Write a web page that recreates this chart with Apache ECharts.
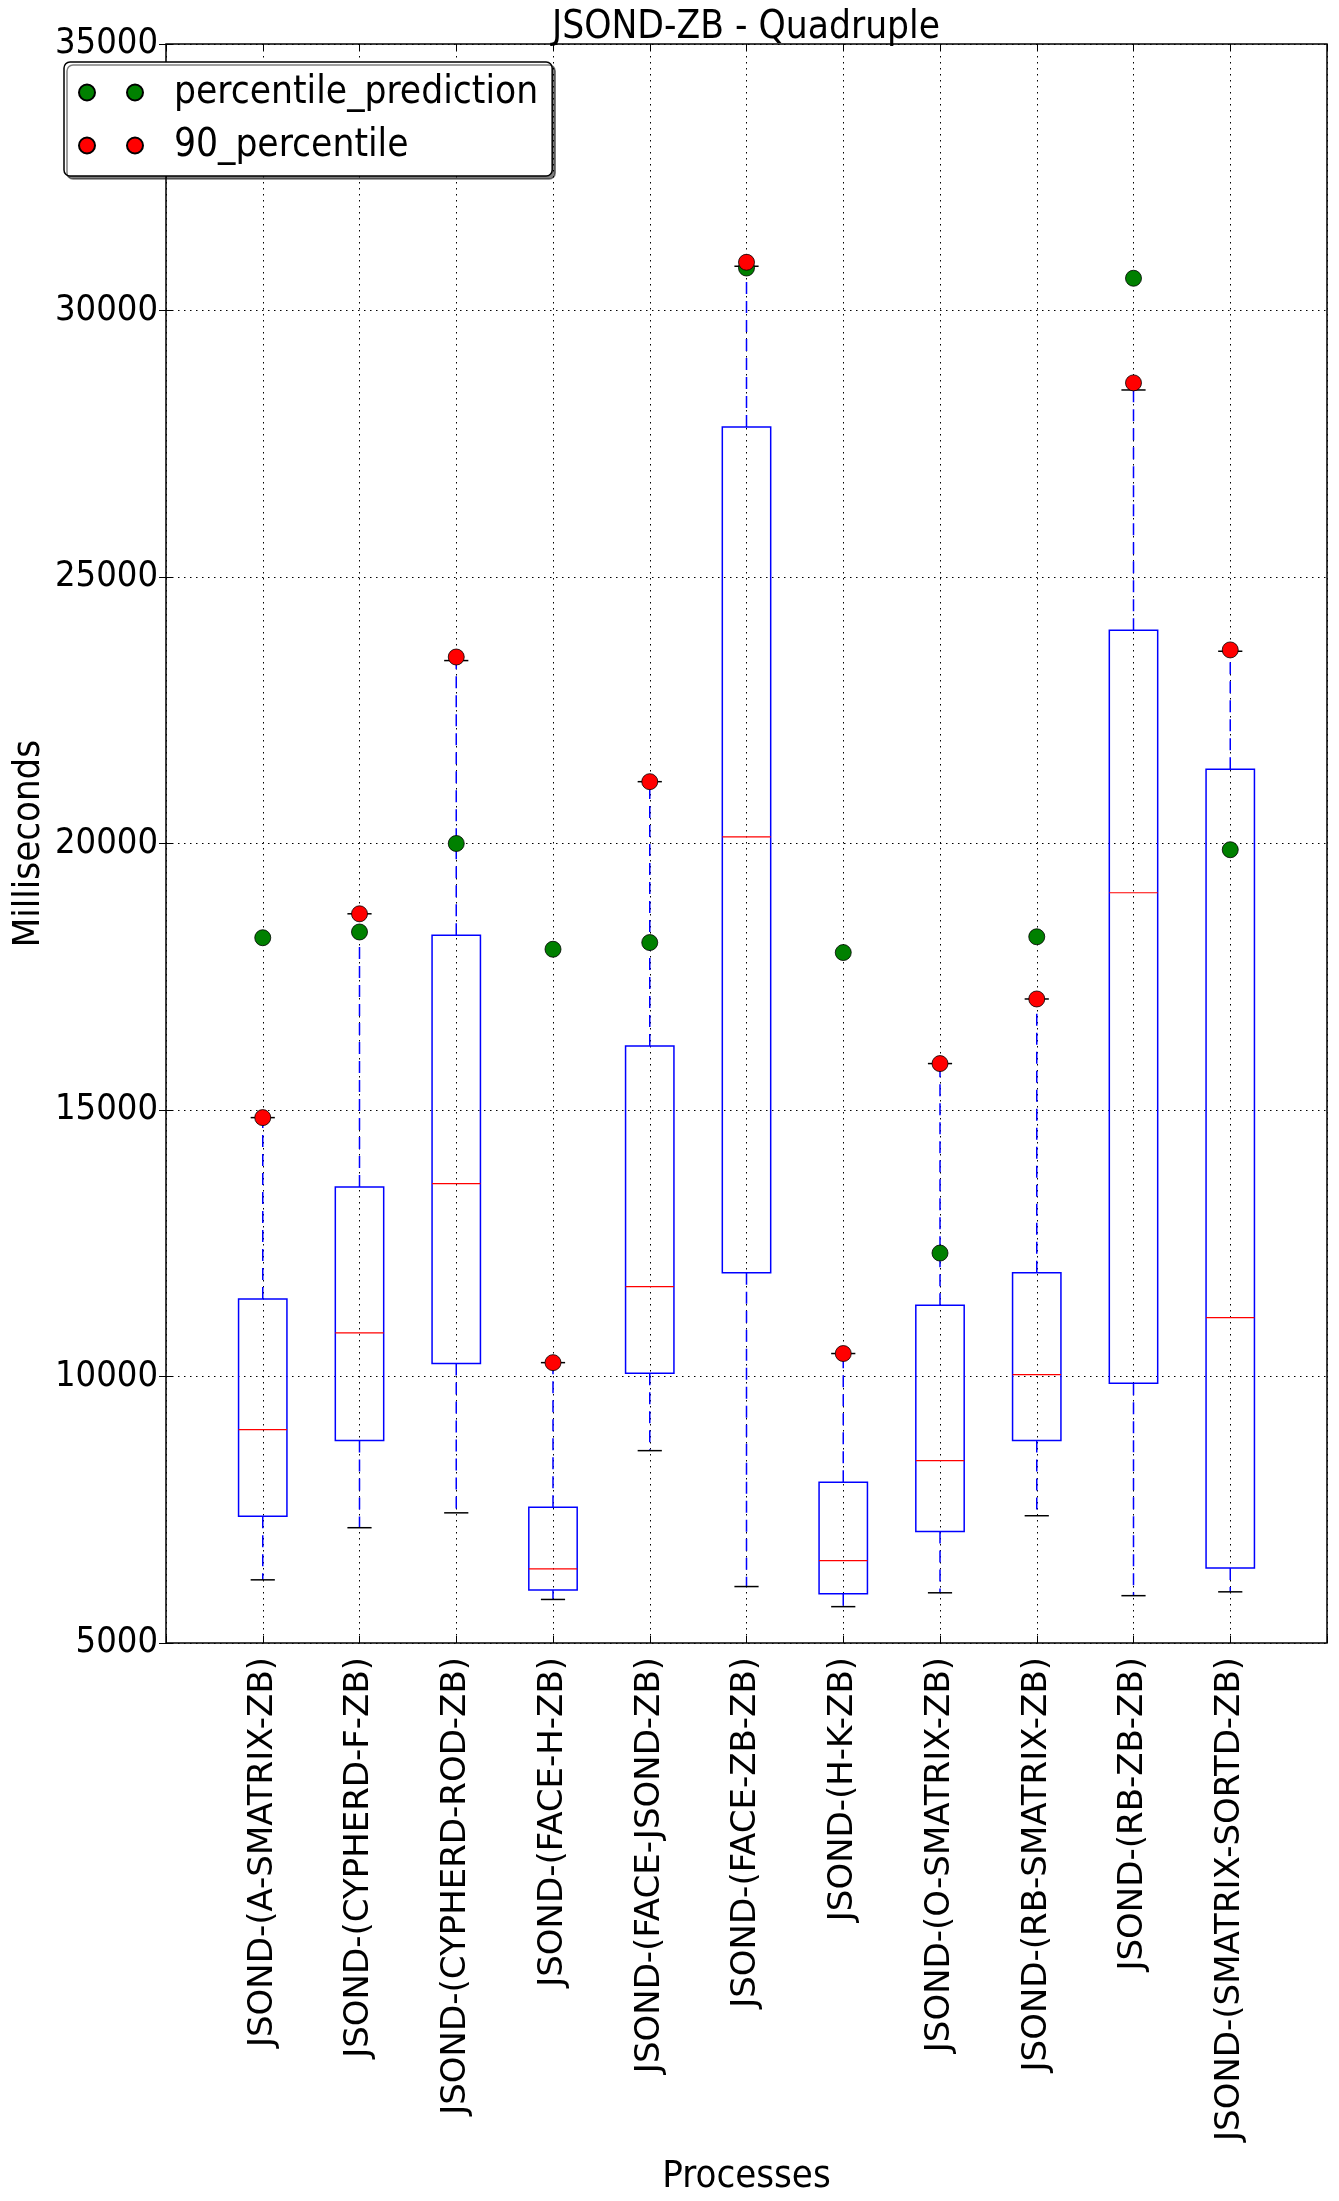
<!DOCTYPE html>
<html>
<head>
<meta charset="utf-8">
<script src="https://cdn.jsdelivr.net/npm/echarts@6/dist/echarts.min.js"></script>
<style>
html,body{margin:0;padding:0;background:#fff;}
#chart{width:1339px;height:2201px;}
</style>
</head>
<body>
<div id="chart"></div>
<script>
const categories = [
  'JSOND-(A-SMATRIX-ZB)', 'JSOND-(CYPHERD-F-ZB)', 'JSOND-(CYPHERD-ROD-ZB)',
  'JSOND-(FACE-H-ZB)', 'JSOND-(FACE-JSOND-ZB)', 'JSOND-(FACE-ZB-ZB)',
  'JSOND-(H-K-ZB)', 'JSOND-(O-SMATRIX-ZB)', 'JSOND-(RB-SMATRIX-ZB)',
  'JSOND-(RB-ZB-ZB)', 'JSOND-(SMATRIX-SORTD-ZB)'
];
const whiskerLow  = [6185, 7163, 7442, 5817, 8609, 6059, 5682, 5942, 7388, 5888, 5960];
const q1          = [7379, 8797, 10242, 5996, 10063, 11948, 5924, 7091, 8797, 9874, 6409];
const median      = [9004, 10817, 13618, 6391, 11688, 20125, 6544, 8420, 10036, 19076, 11104];
const q3          = [11454, 13555, 18277, 7549, 16203, 27816, 8016, 11338, 11948, 24000, 21394];
const whiskerHigh = [14857, 18681, 23432, 10260, 21160, 30830, 10431, 15871, 17083, 28509, 23607];
const percentilePrediction = [18232, 18340, 20000, 18016, 18142, 30797, 17954, 12316, 18250, 30605, 19883];
const percentile90 = [14857, 18681, 23499, 10260, 21160, 30905, 10431, 15871, 17083, 28642, 23632];
const yTicks = [5000, 10000, 15000, 20000, 25000, 30000, 35000];

const FONT_C = "'DejaVu Sans Condensed', 'Liberation Sans Narrow', 'DejaVu Sans', sans-serif";
const FONT = "'DejaVu Sans', sans-serif";

const boxData = categories.map((c, i) => [i + 1, whiskerLow[i], q1[i], median[i], q3[i], whiskerHigh[i]]);
const predData = categories.map((c, i) => [i + 1, percentilePrediction[i]]);
const p90Data = categories.map((c, i) => [i + 1, percentile90[i]]);

function renderBox(params, api) {
  const x = api.value(0);
  const lo = api.value(1), b1 = api.value(2), md = api.value(3), b3 = api.value(4), hi = api.value(5);
  const hw = 0.25, cw = 0.125;
  const pLoL = api.coord([x - cw, lo]), pLoR = api.coord([x + cw, lo]);
  const pHiL = api.coord([x - cw, hi]), pHiR = api.coord([x + cw, hi]);
  const cx = api.coord([x, md])[0];
  const yLo = api.coord([x, lo])[1], yQ1 = api.coord([x, b1])[1], yMd = api.coord([x, md])[1];
  const yQ3 = api.coord([x, b3])[1], yHi = api.coord([x, hi])[1];
  const xl = api.coord([x - hw, md])[0], xr = api.coord([x + hw, md])[0];
  const dashStyle = {stroke: '#0000ff', lineWidth: 1.5, lineDash: [12, 7]};
  return {
    type: 'group',
    children: [
      {type: 'line', shape: {x1: cx, y1: yQ1, x2: cx, y2: yLo}, style: dashStyle},
      {type: 'line', shape: {x1: cx, y1: yQ3, x2: cx, y2: yHi}, style: dashStyle},
      {type: 'line', shape: {x1: pLoL[0], y1: yLo, x2: pLoR[0], y2: yLo}, style: {stroke: '#000', lineWidth: 1.5}},
      {type: 'line', shape: {x1: pHiL[0], y1: yHi, x2: pHiR[0], y2: yHi}, style: {stroke: '#000', lineWidth: 1.5}},
      {type: 'rect', shape: {x: xl, y: yQ3, width: xr - xl, height: yQ1 - yQ3}, style: {fill: 'none', stroke: '#0000ff', lineWidth: 1.5}},
      {type: 'line', shape: {x1: xl, y1: yMd, x2: xr, y2: yMd}, style: {stroke: '#ff0000', lineWidth: 1.2}}
    ]
  };
}

const twoDots = 'path://M0,8a8,8 0 1,0 16,0a8,8 0 1,0 -16,0z M48,8a8,8 0 1,0 16,0a8,8 0 1,0 -16,0z';

const chart = echarts.init(document.getElementById('chart'), null, {renderer: 'canvas'});
chart.setOption({
  backgroundColor: '#ffffff',
  animation: false,
  title: {
    text: 'JSOND-ZB - Quadruple',
    left: 746, textAlign: 'center', top: 8, padding: 0,
    textStyle: {fontFamily: FONT_C, fontSize: 38.5, fontWeight: 'normal', color: '#000'}
  },
  legend: {
    left: 64, top: 62, orient: 'vertical',
    padding: [11, 14, 11, 14],
    itemGap: 14,
    itemWidth: 64, itemHeight: 16,
    backgroundColor: '#ffffff',
    borderColor: '#000', borderWidth: 1.5, borderRadius: 6,
    shadowColor: 'rgba(0,0,0,0.5)', shadowBlur: 0, shadowOffsetX: 3, shadowOffsetY: 3,
    textStyle: {fontFamily: FONT_C, fontSize: 38.5, color: '#000', padding: [0, 0, 0, 26]},
    data: [
      {name: 'percentile_prediction', icon: twoDots},
      {name: '90_percentile', icon: twoDots}
    ]
  },
  grid: {
    left: 166, right: 12, top: 44, bottom: 558,
    outerBoundsMode: 'none',
    containLabel: false,
    show: true, borderColor: '#000', borderWidth: 1.5, backgroundColor: 'transparent'
  },
  xAxis: [{
    type: 'value', min: 0, max: 12, interval: 1,
    name: 'Processes', nameLocation: 'middle', nameGap: 515, nameMoveOverlap: false,
    nameTextStyle: {fontFamily: FONT_C, fontSize: 38, color: '#000'},
    axisLine: {show: false},
    axisTick: {show: true, inside: true, length: 7, lineStyle: {color: '#000', width: 1}},
    axisLabel: {
      rotate: 90, margin: 14, fontFamily: FONT, fontSize: 34, color: '#000',
      formatter: function (v) { return (v >= 1 && v <= categories.length) ? categories[v - 1] : ''; }
    },
    splitLine: {show: true, lineStyle: {color: '#000', width: 1, type: [1.5, 4.5]}}
  }, {
    type: 'value', min: 0, max: 12, interval: 1, position: 'top',
    axisLine: {show: false}, axisLabel: {show: false}, splitLine: {show: false},
    axisTick: {show: true, inside: true, length: 7, lineStyle: {color: '#000', width: 1}}
  }],
  yAxis: [{
    type: 'value', min: 5000, max: 35000, interval: 5000,
    name: 'Milliseconds', nameLocation: 'middle', nameGap: 118, nameRotate: 90, nameMoveOverlap: false,
    nameTextStyle: {fontFamily: FONT_C, fontSize: 38, color: '#000'},
    axisLine: {show: false},
    axisTick: {show: true, inside: true, length: 7, lineStyle: {color: '#000', width: 1}},
    axisLabel: {margin: 8, fontFamily: FONT_C, fontSize: 36, color: '#000',
      formatter: function (v) { return String(v); }},
    splitLine: {show: true, lineStyle: {color: '#000', width: 1, type: [1.5, 4.5]}}
  }, {
    type: 'value', min: 5000, max: 35000, interval: 5000, position: 'right',
    axisLine: {show: false}, axisLabel: {show: false}, splitLine: {show: false},
    axisTick: {show: true, inside: true, length: 7, lineStyle: {color: '#000', width: 1}}
  }],
  series: [
    {
      type: 'custom', name: 'boxes', renderItem: renderBox,
      encode: {x: 0, y: [1, 2, 3, 4, 5]},
      data: boxData, z: 2, silent: true
    },
    {
      type: 'scatter', name: 'percentile_prediction', data: predData,
      symbol: 'circle', symbolSize: 16, z: 3,
      itemStyle: {color: '#008000', borderColor: '#000', borderWidth: 0.8, opacity: 1}
    },
    {
      type: 'scatter', name: '90_percentile', data: p90Data,
      symbol: 'circle', symbolSize: 16, z: 4,
      itemStyle: {color: '#ff0000', borderColor: '#000', borderWidth: 0.8, opacity: 1}
    }
  ]
});
</script>
</body>
</html>
